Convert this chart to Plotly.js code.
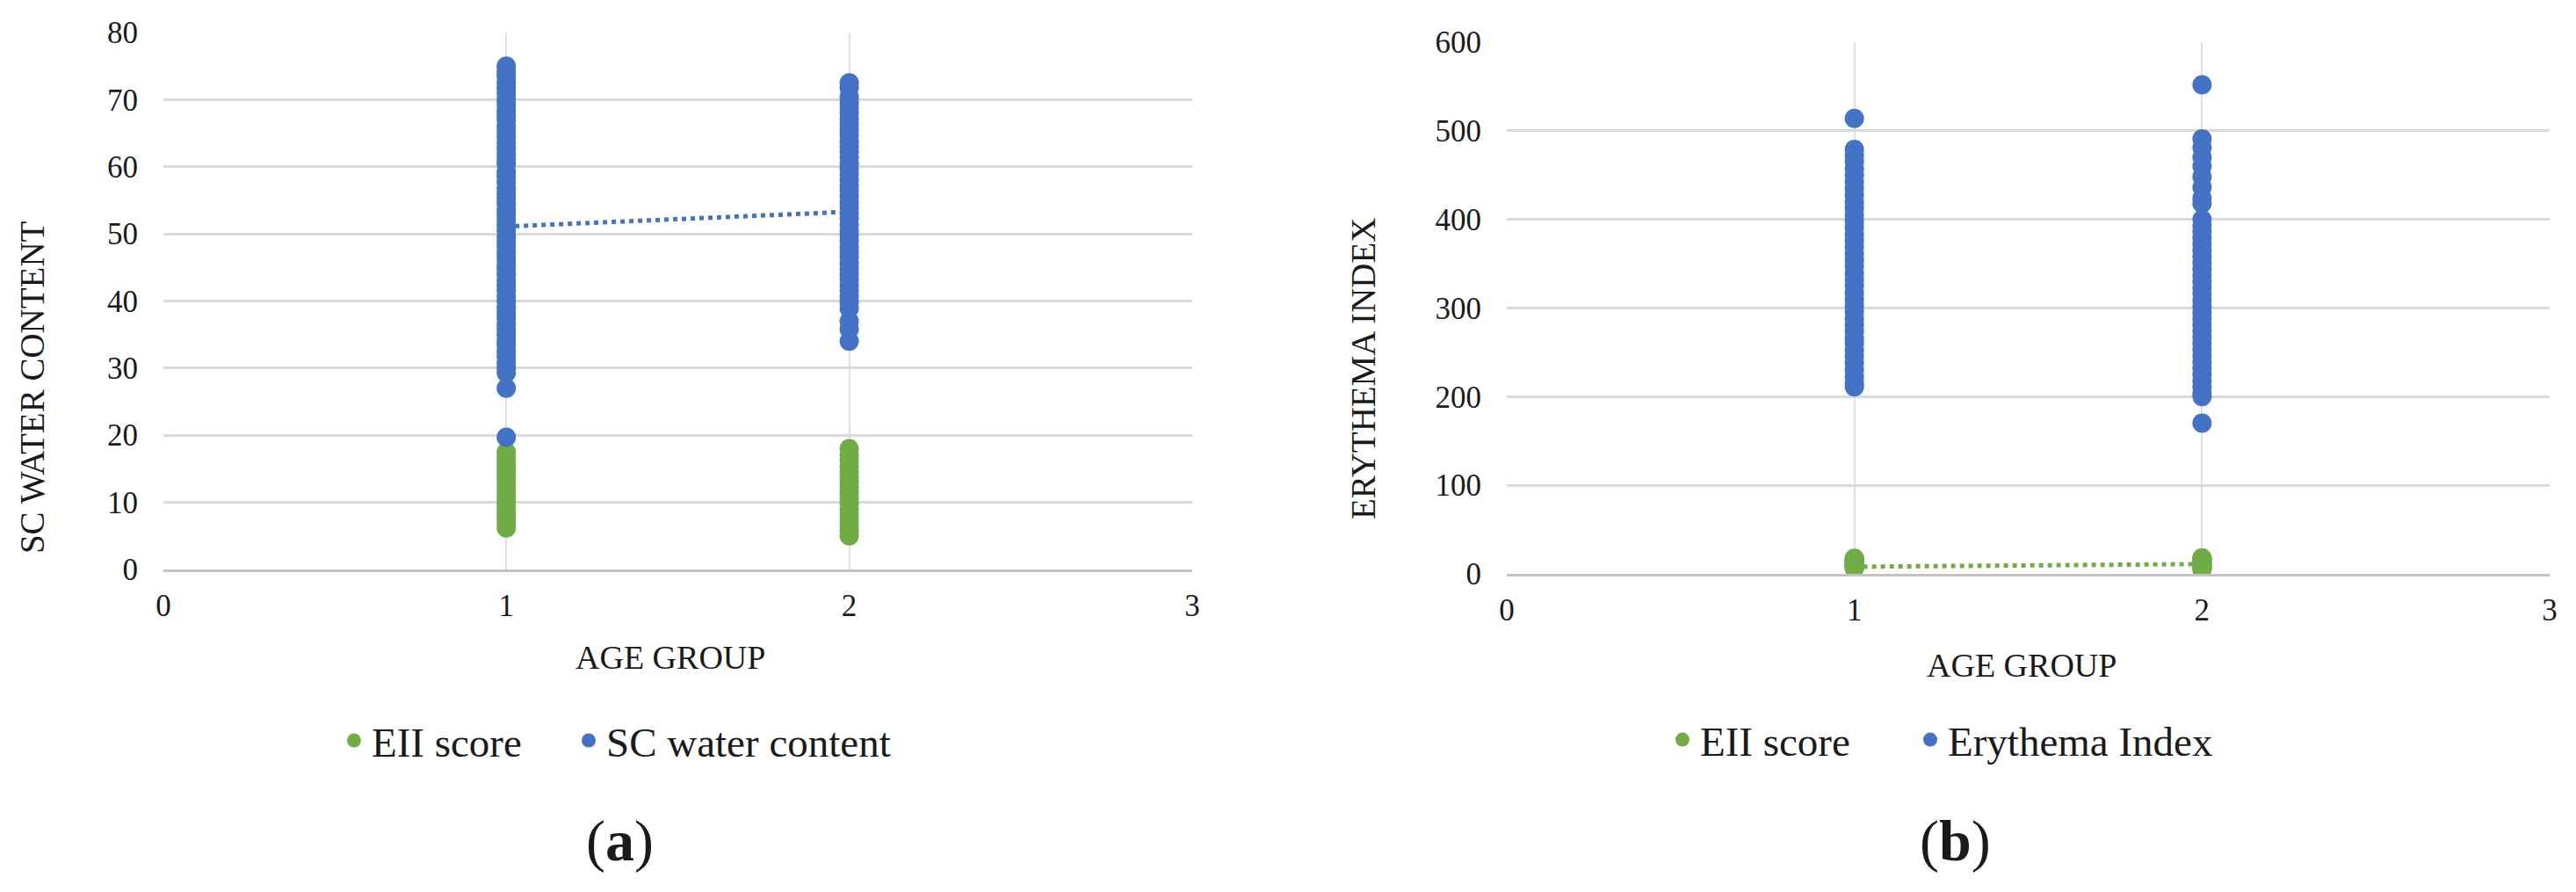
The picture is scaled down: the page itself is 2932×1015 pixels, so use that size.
<!DOCTYPE html>
<html>
<head>
<meta charset="utf-8">
<script src="https://cdn.plot.ly/plotly-3.0.1.min.js"></script>
<style>
  html, body { margin: 0; padding: 0; background: #fff; }
  #chart { width: 2932px; height: 1015px; }
</style>
</head>
<body>
<div id="chart"></div>
<script>
/* ---- Data ---- */
const ageGroups = [1, 2];
const xTicks = [0, 1, 2, 3];

// EII score, per age group (same in both panels)
const eiiGroup1 = [17.5, 16.8, 16.0, 15.3, 14.5, 13.8, 13.0, 12.3, 11.5, 10.8, 10.0, 9.3, 8.5, 7.8, 7.0, 6.2];
const eiiGroup2 = [18.0, 17.0, 16.2, 15.4, 14.6, 13.8, 13.0, 12.2, 11.4, 10.6, 9.8, 9.0, 8.2, 7.4, 6.6, 5.8, 5.0];

// (a) SC water content
const scGroup1 = [75.0, 74.2, 73.5, 72.6, 71.8, 71.0, 70.1, 69.3, 68.4, 67.6, 66.9, 66.0, 65.2, 64.5, 63.6,
  62.8, 61.9, 61.1, 60.4, 59.2, 58.5, 57.7, 56.8, 56.0, 55.3, 54.5, 53.6, 52.8, 52.0, 51.3, 50.5, 49.6,
  48.8, 48.1, 47.2, 46.4, 45.5, 44.8, 44.0, 43.1, 42.4, 41.6, 40.7, 39.9, 39.0, 38.3, 37.5, 36.6, 35.8,
  35.0, 34.1, 33.4, 32.5, 31.7, 30.8, 30.0, 29.3, 27.0, 19.7];
const scGroup2 = [72.5, 71.8, 70.4, 69.6, 68.8, 68.0, 67.1, 66.3, 65.5, 64.7, 63.8, 63.0, 62.2, 61.4, 60.5,
  59.7, 58.9, 58.0, 57.2, 56.4, 55.6, 54.7, 53.9, 53.1, 52.3, 51.4, 50.6, 49.8, 49.0, 48.1, 47.3, 46.5,
  45.6, 44.8, 44.0, 43.2, 42.3, 41.5, 40.7, 39.8, 38.9, 37.0, 35.8, 34.0];
const scTrend = [51.1, 53.3];

// (b) Erythema index
const eryGroup1 = [514, 479, 472, 465, 457, 450, 442, 435, 428, 420, 413, 405, 398, 391, 383, 376, 369,
  361, 354, 347, 339, 332, 325, 317, 310, 303, 296, 288, 281, 274, 266, 260, 252, 245, 238, 230, 222, 215, 211];
const eryGroup2 = [552, 491, 481, 470, 460, 448, 436, 424, 418, 400, 393, 386, 379, 372, 365, 358, 351,
  344, 337, 330, 323, 316, 309, 302, 295, 288, 281, 274, 267, 260, 253, 246, 239, 232, 225, 218, 211,
  204, 200, 170];
const eiiTrend = [8, 11];

/* ---- Style ---- */
const BLUE = '#4472c4', GREEN = '#70ad47';
const FONT = '"Liberation Serif", "Times New Roman", serif';
const GRID = '#d9d9d9';

function groupX(g1, g2) {
  return [...g1.map(() => ageGroups[0]), ...g2.map(() => ageGroups[1])];
}

function pts(g1, g2, name, color, xa, ya, legend) {
  return {
    x: groupX(g1, g2), y: [...g1, ...g2],
    type: 'scatter', mode: 'markers', name,
    marker: { color, size: 22, line: { width: 0 } },
    xaxis: xa, yaxis: ya, legend,
  };
}

function trend(y, color, xa, ya) {
  return {
    x: ageGroups, y, type: 'scatter', mode: 'lines',
    line: { color, width: 5, dash: 'dot' },
    xaxis: xa, yaxis: ya, showlegend: false, hoverinfo: 'skip',
  };
}

const traces = [
  trend(scTrend, BLUE, 'x', 'y'),
  pts(eiiGroup1, eiiGroup2, 'EII score', GREEN, 'x', 'y', 'legend'),
  pts(scGroup1, scGroup2, 'SC water content', BLUE, 'x', 'y', 'legend2'),
  trend(eiiTrend, GREEN, 'x2', 'y2'),
  pts(eiiGroup1, eiiGroup2, 'EII score', GREEN, 'x2', 'y2', 'legend3'),
  pts(eryGroup1, eryGroup2, 'Erythema Index', BLUE, 'x2', 'y2', 'legend4'),
];

const tickFont = { family: FONT, size: 35, color: '#1a1a1a' };

function xAxis(domain) {
  return {
    domain, range: [0, 3], tickvals: xTicks, ticktext: xTicks.map(String),
    showgrid: true, gridcolor: '#e0e0e0', gridwidth: 2, zeroline: false,
    showline: true, linecolor: '#c4c4c4', linewidth: 3,
    ticks: '', ticklabelstandoff: 8, tickfont: tickFont, fixedrange: true,
  };
}
function yAxis(domain, max, step, anchor) {
  return {
    domain, range: [0, max], dtick: step, anchor,
    showgrid: true, gridcolor: GRID, gridwidth: 3, zeroline: false,
    showline: false, ticks: '', ticklabelstandoff: 28, tickfont: tickFont, fixedrange: true,
  };
}

function leg(x, y) {
  return {
    x, y, xanchor: 'left', yanchor: 'middle', orientation: 'h',
    font: { family: FONT, size: 47, color: '#1a1a1a' },
    bgcolor: 'rgba(0,0,0,0)', borderwidth: 0, itemclick: false,
  };
}

function ann(text, x, y, size, angle) {
  return {
    text, x, y, xref: 'paper', yref: 'paper', showarrow: false,
    xanchor: 'center', yanchor: 'middle', textangle: angle || 0,
    font: { family: FONT, size, color: '#1a1a1a' },
  };
}

const layout = {
  width: 2932, height: 1015,
  margin: { l: 0, r: 0, t: 0, b: 0 },
  paper_bgcolor: '#fff', plot_bgcolor: '#fff',
  xaxis: xAxis([0.0634, 0.4628]),
  yaxis: yAxis([0.3616, 0.9635], 80, 10, 'x'),
  xaxis2: Object.assign(xAxis([0.5849, 0.9898]), { anchor: 'y2' }),
  yaxis2: yAxis([0.3567, 0.9527], 600, 100, 'x2'),
  legend: leg(0.1306, 0.1695),
  legend2: leg(0.2217, 0.1695),
  legend3: leg(0.6463, 0.1704),
  legend4: leg(0.7425, 0.1704),
  annotations: [
    ann('SC WATER CONTENT', 0.0123, 0.5655, 39, -90),
    ann('ERYTHEMA INDEX', 0.529, 0.5862, 39, -90),
    ann('AGE GROUP', 0.2603, 0.263, 38),
    ann('AGE GROUP', 0.7848, 0.2542, 38),
    ann('(<b>a</b>)', 0.2405, 0.0571, 66),
    ann('(<b>b</b>)', 0.7589, 0.0571, 66),
  ],
};

Plotly.newPlot('chart', traces, layout, { staticPlot: true, displayModeBar: false });
</script>
</body>
</html>
